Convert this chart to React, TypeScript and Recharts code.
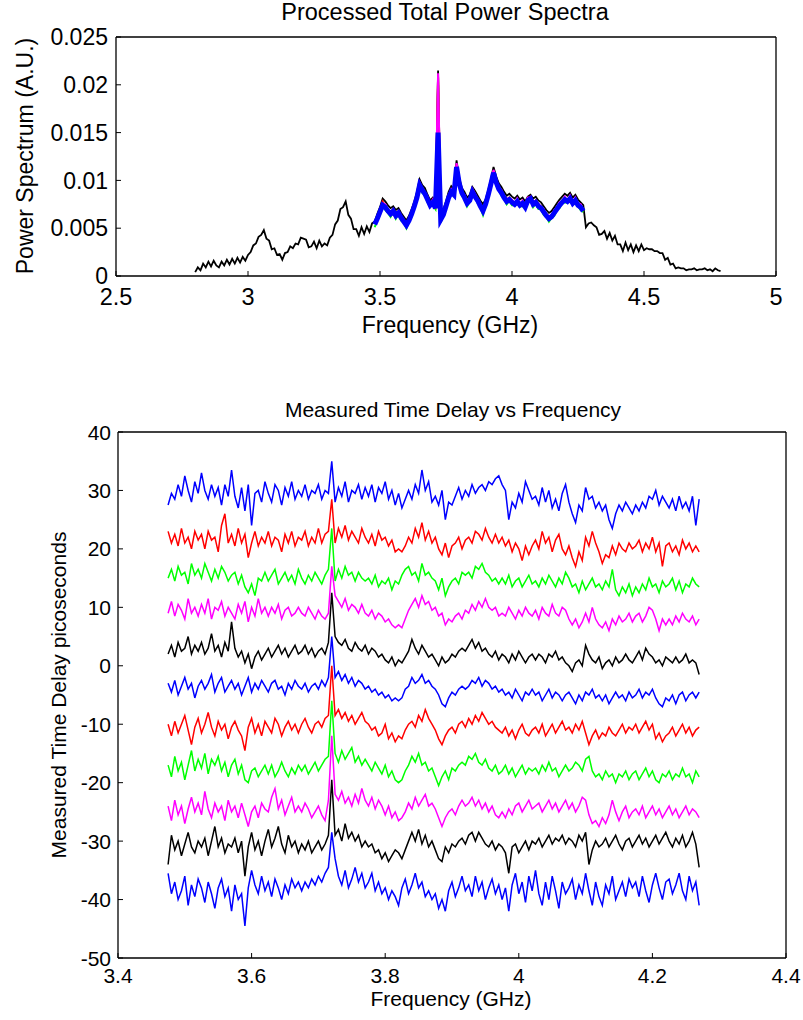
import { LineChart, Line, XAxis, YAxis } from 'recharts';

const FONT = '"Liberation Sans", Arial, Helvetica, sans-serif';

// ---- Processed Total Power Spectra (top) ----
// full-band trace, 2.80 .. 4.79 GHz, 10 MHz spacing
const powerStart = 2.8;
const powerStep = 0.01;
const powerBlack = [
  0.0004, 0.0009, 0.0006, 0.0013, 0.0009, 0.0015, 0.0010, 0.0016, 0.0011, 0.0009,
  0.0015, 0.0011, 0.0017, 0.0012, 0.0018, 0.0013, 0.0019, 0.0014, 0.0020, 0.0016,
  0.0022, 0.0025, 0.0032, 0.0034, 0.0041, 0.0043, 0.0048, 0.0039, 0.0037, 0.0028,
  0.0029, 0.0022, 0.0023, 0.0017, 0.0024, 0.0025, 0.0031, 0.0029, 0.0034, 0.0033,
  0.0040, 0.0039, 0.0038, 0.0030, 0.0031, 0.0036, 0.0029, 0.0037, 0.0031, 0.0034,
  0.0032, 0.0040, 0.0043, 0.0054, 0.0058, 0.0070, 0.0072, 0.0078, 0.0064, 0.0060,
  0.0049, 0.0049, 0.0042, 0.0051, 0.0044, 0.0052, 0.0046, 0.0055, 0.0057, 0.0065,
  0.0072, 0.0081, 0.0078, 0.0074, 0.0071, 0.0073, 0.0069, 0.0071, 0.0066, 0.0062,
  0.0058, 0.0063, 0.0070, 0.0078, 0.0088, 0.0101, 0.0095, 0.0092, 0.0085, 0.0079,
  0.0082, 0.0076, 0.0215, 0.0064, 0.0070, 0.0078, 0.0088, 0.0094, 0.0091, 0.0121,
  0.0103, 0.0092, 0.0088, 0.0082, 0.0085, 0.0093, 0.0089, 0.0084, 0.0079, 0.0075,
  0.0080, 0.0090, 0.0101, 0.0114, 0.0104, 0.0097, 0.0093, 0.0088, 0.0084, 0.0086,
  0.0083, 0.0081, 0.0084, 0.0080, 0.0082, 0.0078, 0.0083, 0.0085, 0.0081, 0.0083,
  0.0079, 0.0077, 0.0073, 0.0069, 0.0066, 0.0068, 0.0072, 0.0076, 0.0080, 0.0083,
  0.0086, 0.0084, 0.0087, 0.0082, 0.0085, 0.0080, 0.0077, 0.0074, 0.0051, 0.0055,
  0.0056, 0.0053, 0.0051, 0.0043, 0.0044, 0.0047, 0.0039, 0.0045, 0.0037, 0.0042,
  0.0033, 0.0033, 0.0026, 0.0035, 0.0027, 0.0033, 0.0025, 0.0032, 0.0026, 0.0033,
  0.0027, 0.0029, 0.0028, 0.0028, 0.0026, 0.0026, 0.0024, 0.0024, 0.0017, 0.0019,
  0.0012, 0.0013, 0.0008, 0.0009, 0.0008, 0.0008, 0.0006, 0.0007, 0.0007, 0.0008,
  0.0006, 0.0007, 0.0007, 0.0008, 0.0006, 0.0007, 0.0005, 0.0008, 0.0006, 0.0005,
];

// processed band, 3.48 .. 4.27 GHz
const bandStart = 3.48;
const bandStep = 0.01;
const powerGreen = [
  0.0051, 0.0059, 0.0064, 0.0075, 0.0069, 0.0066, 0.0062, 0.0067, 0.0060, 0.0065,
  0.0058, 0.0056, 0.0050, 0.0057, 0.0062, 0.0072, 0.0079, 0.0094, 0.0087, 0.0085,
  0.0077, 0.0073, 0.0074, 0.0070, 0.0200, 0.0056, 0.0063, 0.0070, 0.0081, 0.0085,
  0.0084, 0.0111, 0.0096, 0.0084, 0.0081, 0.0073, 0.0078, 0.0085, 0.0082, 0.0076,
  0.0072, 0.0064, 0.0074, 0.0082, 0.0095, 0.0107, 0.0095, 0.0090, 0.0084, 0.0081,
  0.0075, 0.0079, 0.0074, 0.0074, 0.0075, 0.0073, 0.0073, 0.0071, 0.0076, 0.0080,
  0.0072, 0.0076, 0.0070, 0.0070, 0.0064, 0.0062, 0.0057, 0.0061, 0.0063, 0.0069,
  0.0071, 0.0076, 0.0077, 0.0077, 0.0078, 0.0075, 0.0076, 0.0073, 0.0069, 0.0067,
];
const powerRed = [
  0.0055, 0.0062, 0.0069, 0.0078, 0.0073, 0.0069, 0.0066, 0.0070, 0.0064, 0.0067,
  0.0062, 0.0059, 0.0054, 0.0060, 0.0066, 0.0076, 0.0084, 0.0097, 0.0091, 0.0088,
  0.0081, 0.0076, 0.0078, 0.0073, 0.0208, 0.0061, 0.0065, 0.0076, 0.0083, 0.0090,
  0.0087, 0.0117, 0.0098, 0.0089, 0.0083, 0.0078, 0.0080, 0.0090, 0.0084, 0.0081,
  0.0074, 0.0070, 0.0076, 0.0087, 0.0098, 0.0110, 0.0099, 0.0093, 0.0088, 0.0084,
  0.0079, 0.0082, 0.0078, 0.0077, 0.0079, 0.0076, 0.0077, 0.0074, 0.0080, 0.0083,
  0.0076, 0.0079, 0.0074, 0.0073, 0.0068, 0.0065, 0.0061, 0.0064, 0.0067, 0.0072,
  0.0075, 0.0079, 0.0081, 0.0080, 0.0082, 0.0078, 0.0080, 0.0076, 0.0073, 0.0070,
];
const powerMagenta = [
  0.0056, 0.0061, 0.0070, 0.0076, 0.0075, 0.0070, 0.0067, 0.0069, 0.0065, 0.0068,
  0.0063, 0.0058, 0.0056, 0.0059, 0.0068, 0.0075, 0.0085, 0.0098, 0.0092, 0.0087,
  0.0083, 0.0075, 0.0080, 0.0072, 0.0212, 0.0060, 0.0067, 0.0075, 0.0085, 0.0091,
  0.0088, 0.0118, 0.0100, 0.0088, 0.0085, 0.0079, 0.0081, 0.0091, 0.0086, 0.0080,
  0.0076, 0.0069, 0.0078, 0.0086, 0.0099, 0.0111, 0.0101, 0.0092, 0.0090, 0.0083,
  0.0081, 0.0081, 0.0080, 0.0076, 0.0081, 0.0075, 0.0079, 0.0073, 0.0082, 0.0082,
  0.0078, 0.0078, 0.0076, 0.0072, 0.0070, 0.0064, 0.0063, 0.0063, 0.0069, 0.0071,
  0.0077, 0.0078, 0.0083, 0.0079, 0.0084, 0.0077, 0.0082, 0.0075, 0.0075, 0.0069,
];
const powerBlue = [
  0.0054, 0.0060, 0.0067, 0.0074, 0.0072, 0.0068, 0.0065, 0.0068, 0.0063, 0.0066,
  0.0061, 0.0057, 0.0053, 0.0058, 0.0065, 0.0073, 0.0082, 0.0095, 0.0090, 0.0086,
  0.0080, 0.0074, 0.0077, 0.0071, 0.0150, 0.0059, 0.0064, 0.0073, 0.0082, 0.0088,
  0.0085, 0.0114, 0.0097, 0.0087, 0.0082, 0.0076, 0.0079, 0.0088, 0.0083, 0.0079,
  0.0073, 0.0068, 0.0075, 0.0085, 0.0096, 0.0108, 0.0098, 0.0091, 0.0087, 0.0082,
  0.0078, 0.0080, 0.0077, 0.0075, 0.0078, 0.0074, 0.0076, 0.0072, 0.0079, 0.0081,
  0.0075, 0.0077, 0.0073, 0.0071, 0.0067, 0.0063, 0.0060, 0.0062, 0.0066, 0.0070,
  0.0074, 0.0077, 0.0080, 0.0078, 0.0081, 0.0076, 0.0079, 0.0074, 0.0072, 0.0068,
];
const powerTicksX = [2.5, 3, 3.5, 4, 4.5, 5];
const powerTicksY = [0, 0.005, 0.01, 0.015, 0.02, 0.025];

// ---- Measured Time Delay vs Frequency (bottom) ----
// 3.475 .. 4.27 GHz, 5 MHz spacing, picoseconds
const delayStart = 3.475;
const delayStep = 0.005;
const delayBlue1 = [
  27.5, 29.5, 28.5, 31, 29, 32.5, 30, 28, 31.5, 29.5,
  33, 30, 28.5, 31, 29, 30.5, 27.5, 31, 29, 33.5,
  29, 27, 30.5, 26.5, 31, 24, 29.5, 30, 28, 31.5,
  29.5, 28, 31, 30, 27.5, 30.5, 29, 31.5, 28.5, 30,
  29, 31, 28.5, 30, 29.5, 31, 28.5, 30, 29.5, 35,
  28, 30.5, 29, 31.5, 28, 30, 29.5, 31, 28.5, 30.5,
  29, 31, 28, 30.5, 29.5, 31.5, 28.5, 30, 27.5, 29.5,
  27, 28.5, 30, 28.5, 31, 29.5, 33.5, 30, 31.5, 28,
  29, 27.5, 30, 25, 28, 27.5, 29, 30.5, 28.5, 30,
  29, 31, 29.5, 30.5, 31, 30, 31.5, 31, 32, 32.5,
  31, 30, 25, 28, 27, 29.5, 28, 31.5, 30, 28.5,
  29, 27.5, 30.5, 28, 30, 27, 28.5, 26.5, 29.5, 31,
  28, 26, 24.5, 27.5, 26.5, 30.5, 28.5, 29, 27, 28,
  26.5, 27.5, 25, 23.5, 26, 27.5, 26.5, 28, 27, 26,
  27.5, 26.5, 28, 27, 29, 28.5, 30, 27.5, 29, 28,
  27, 28.5, 26.5, 29, 27, 28, 26.5, 29, 24, 28.5,
];
const delayRed1 = [
  23, 21, 22.5, 20.5, 23.5, 21, 22, 20, 23, 21.5,
  22.5, 20, 23, 21.5, 22, 19.5, 24, 26, 21, 22.5,
  20.5, 23.5, 21, 22.5, 18.5, 21, 23, 20.5, 22, 21,
  23, 20.5, 22, 21.5, 19.5, 22.5, 21, 23, 20.5, 22,
  21.5, 23, 20.5, 22, 21, 23.5, 21, 22.5, 23, 28.5,
  21, 23.5, 22, 24, 21.5, 23, 22, 21, 23.5, 22,
  21, 22.5, 20.5, 23, 21.5, 22, 20.5, 21.5, 19.5, 20,
  19.5, 20.5, 22, 21, 23.5, 22, 24.5, 21.5, 23, 21,
  22, 20, 19, 21, 18.5, 20.5, 21, 22, 20, 21.5,
  22, 21, 23, 22.5, 21.5, 23.5, 22, 21, 22.5, 21,
  22, 20.5, 21.5, 19.5, 21, 20, 18, 20.5, 19, 20.5,
  21.5, 20, 23, 21, 22, 19.5, 21.5, 22.5, 20, 19,
  20.5, 18.5, 17, 19.5, 18, 22, 20.5, 23, 21, 19.5,
  17.5, 19, 18.5, 20.5, 19, 21, 20, 19.5, 21, 20,
  20.5, 21.5, 19.5, 21, 20, 22, 19.5, 21, 17, 20.5,
  21, 19.5, 20.5, 19, 21.5, 20, 21, 19.5, 20.5, 19.5,
];
const delayGreen1 = [
  15, 16.5, 14.5, 17, 15.5, 16, 14, 17.5, 15.5, 16.5,
  15, 17.5, 16, 14.5, 16.5, 15, 17, 16, 14.5, 15.5,
  16, 14, 15.5, 13.5, 12.5, 14, 12, 15, 14.5, 16,
  14.5, 15.5, 16.5, 14, 15, 16, 14.5, 15.5, 14, 16.5,
  15, 14, 15.5, 14.5, 16, 15, 14, 15.5, 16.5, 23.5,
  14.5, 16.5, 15, 17, 15.5, 16, 14.5, 16, 15, 14.5,
  15, 14, 15.5, 13.5, 14.5, 14, 15, 13, 14.5, 14,
  15.5, 16.5, 17, 15.5, 16, 14.5, 17.5, 15.5, 16, 15,
  14.5, 13, 15, 12, 13.5, 14.5, 15, 14, 16, 15.5,
  16, 15, 17, 16.5, 17.5, 16, 15.5, 14.5, 15, 14,
  15, 14, 15.5, 13.5, 14.5, 15, 13.5, 14.5, 15.5, 14,
  14.5, 13.5, 15, 14, 15.5, 14.5, 13.5, 15, 14, 16,
  15, 13.5, 14, 12.5, 14.5, 13, 14, 15, 13.5, 14,
  13, 14.5, 13.5, 16.5, 13, 12, 13.5, 12.5, 14, 12,
  13.5, 12.5, 14, 13, 15, 13.5, 14, 12.5, 14.5, 13.5,
  14, 15, 13, 14.5, 12.5, 14, 13.5, 15, 14, 13.5,
];
const delayMagenta1 = [
  9, 11, 8.5, 10.5, 9.5, 8, 11.5, 9, 10, 8.5,
  10.5, 9, 11.5, 8, 10, 9.5, 11, 8.5, 10, 9,
  8, 10.5, 9, 11, 7.5, 10, 8.5, 11.5, 9, 10,
  8.5, 10, 9, 10.5, 8, 9.5, 10, 8.5, 9, 10,
  9, 8.5, 10, 9, 8, 9.5, 8.5, 8, 9, 17,
  12, 11, 10, 11.5, 9.5, 10.5, 10, 9, 10.5, 9,
  8.5, 9.5, 8, 9, 8.5, 7.5, 8, 7, 6.5, 7,
  6.5, 8, 9.5, 10.5, 11.5, 10, 12, 10.5, 11, 9.5,
  10, 8.5, 9, 7, 8, 7.5, 8.5, 9, 8, 9.5,
  9, 10.5, 9.5, 11, 10, 11.5, 10, 9.5, 10, 8.5,
  9, 8.5, 10, 9, 8, 9.5, 8.5, 10, 9, 8.5,
  9.5, 8, 10, 9, 8.5, 10.5, 9, 8.5, 10, 9.5,
  8, 7, 8, 6.5, 7.5, 9, 7.5, 10, 8, 7,
  6.5, 7.5, 6, 8, 7, 8.5, 7.5, 8, 9, 7.5,
  8.5, 9, 7.5, 8.5, 10, 9.5, 8, 6, 8, 7,
  8, 7, 8.5, 7.5, 9, 8, 7.5, 8.5, 7, 8,
];
const delayBlack1 = [
  2, 3.5, 1.5, 4, 2.5, 3, 5, 2, 3.5, 2.5,
  4, 2, 3, 5.5, 2.5, 3.5, 1.5, 4, 2.5, 7.5,
  3, 1.5, 2.5, 0.5, 2, -0.5, 1.5, 2.5, 1, 2,
  3, 1.5, 2.5, 3.5, 2, 3, 1.5, 2.5, 3.5, 2,
  2.5, 3.5, 2, 3, 1.5, 2.5, 3, 2, 4, 12.5,
  5, 4, 3.5, 4.5, 3, 2.5, 4, 3, 2.5, 3.5,
  2, 3, 2.5, 1.5, 2, 1, 0.5, 1.5, 0, 1,
  0.5, 1.5, 2.5, 4.5, 3, 2, 3.5, 2.5, 1.5, 2,
  1, 0, 1.5, 0.5, 1, 2, 1.5, 2.5, 3, 2.5,
  3.5, 4.5, 3, 4, 2.5, 3, 2, 1.5, 2.5, 1,
  2, 1.5, 0.5, 2, 1, 2.5, 1.5, 0.5, 1.5, 2,
  1, 2, 1.5, 0.5, 2, 1.5, 2.5, 1, 1.5, 0.5,
  0, -1, 0.5, 1, 0, 3.5, 2, 1, 0.5, 1.5,
  -0.5, 0.5, 1, 0, 1.5, 0.5, 1, 2, 1, 0.5,
  1.5, 2.5, 1, 3, 2, 1.5, 0.5, 1, 0, 1.5,
  1, 0.5, 1.5, 0.5, 1, 2, 0.5, 1, 0.5, -1.5,
];
const delayBlue2 = [
  -3, -4.5, -2.5, -5, -3.5, -2, -4, -3, -5.5, -3.5,
  -2.5, -4, -3, -1.5, -4.5, -3, -2, -4.5, -3.5, -2.5,
  -4, -3, -5, -3.5, -2, -4.5, -3, -4, -2.5, -3.5,
  -4.5, -3, -2.5, -4, -3.5, -5, -3, -4, -2.5, -3.5,
  -4, -3, -4.5, -3.5, -3, -4, -2.5, -3.5, -2, 5,
  -2, -1, -2.5, -1.5, -3, -2, -3.5, -2.5, -3, -4,
  -3.5, -4.5, -4, -5, -4.5, -5.5, -5, -6, -5.5, -6,
  -5.5, -4, -3.5, -2, -3, -2.5, -1.5, -3, -2.5, -3.5,
  -4, -5, -6.5, -7, -5.5, -4.5, -5, -4, -3.5, -4,
  -3.5, -2.5, -3, -2, -3.5, -2.5, -3, -4, -3.5, -4.5,
  -4, -5, -4.5, -5.5, -4, -5, -6, -4.5, -5, -4,
  -5, -4.5, -6, -5, -4, -5.5, -4.5, -5, -6, -5,
  -4.5, -5.5, -6.5, -5, -6, -4.5, -5, -4, -5.5, -5,
  -6, -5, -6.5, -5.5, -4.5, -5.5, -5, -6, -4.5, -5.5,
  -5, -4, -5.5, -4.5, -5, -4, -5.5, -6.5, -7, -5.5,
  -6, -5, -6.5, -5, -4.5, -6, -5, -4.5, -5.5, -4.5,
];
const delayRed2 = [
  -10, -12, -9.5, -11.5, -10, -8.5, -11, -13.5, -10.5, -9,
  -11.5, -10, -8, -10.5, -12, -9.5, -11, -10, -12.5, -10.5,
  -9.5, -11, -12, -14.5, -10.5, -9, -11.5, -10, -12, -9.5,
  -10.5, -11.5, -9, -10, -12, -10.5, -9.5, -11, -10, -11.5,
  -10, -9, -10.5, -11.5, -10, -9.5, -10.5, -9, -8.5, 0,
  -8.5, -7.5, -9, -8, -9.5, -8.5, -10, -9, -8, -9.5,
  -10, -11, -10.5, -12, -11.5, -10, -12.5, -11.5, -13, -12,
  -12.5, -11, -10, -9.5, -10.5, -8.5, -9.5, -7.5, -9, -10,
  -11, -12.5, -13.5, -12, -11, -10.5, -11.5, -10, -9.5, -10.5,
  -9, -10, -8.5, -9.5, -8, -9, -10, -9.5, -10.5, -11,
  -11.5, -10.5, -12, -11, -12.5, -11, -10, -11.5, -12, -11,
  -10.5, -11.5, -10, -12, -11, -10, -11.5, -10.5, -9.5, -11,
  -10.5, -11.5, -10, -11, -9.5, -11.5, -13.5, -12, -11, -12.5,
  -11.5, -12, -10.5, -11.5, -12, -11, -10, -11.5, -10.5, -11,
  -10, -11.5, -10.5, -9.5, -11, -10, -12.5, -11.5, -13, -12,
  -11.5, -10.5, -12, -11, -10, -11.5, -10.5, -12, -11, -10.5,
];
const delayGreen2 = [
  -17, -19, -15.5, -18, -16.5, -19.5, -17, -14.5, -18, -16,
  -17.5, -15, -18.5, -16, -17, -15.5, -18, -16.5, -19, -17,
  -16, -18.5, -17, -19.5, -20, -18, -17.5, -19, -18, -17,
  -18.5, -17, -19, -18, -16.5, -18, -19, -17.5, -18.5, -17,
  -18, -17, -18.5, -17.5, -16.5, -18, -17, -16, -15.5, -6,
  -15, -16.5, -14.5, -16, -15, -14, -16.5, -15.5, -17, -16,
  -17, -18, -16.5, -17.5, -18.5, -17, -19, -18, -19.5, -20,
  -19.5, -18, -17, -15.5, -16.5, -15, -17, -16.5, -18, -17.5,
  -19, -20.5, -19, -18, -19.5, -17.5, -18, -17, -16.5, -17,
  -15.5, -16, -15, -16.5, -17, -16, -17.5, -18, -17, -18.5,
  -18, -17, -18.5, -17.5, -19, -18, -17, -18.5, -17.5, -18,
  -17.5, -18.5, -17, -18, -16.5, -18, -17.5, -19, -18, -17,
  -18, -17.5, -16.5, -17, -18, -16, -15.5, -18, -19, -18.5,
  -19.5, -18, -19, -18.5, -20, -18.5, -19, -18, -19.5, -18.5,
  -18, -19.5, -18.5, -17.5, -19, -18, -19.5, -20, -18.5, -19,
  -18, -19.5, -18.5, -19, -17.5, -19, -18.5, -20, -18, -19,
];
const delayMagenta2 = [
  -24, -26.5, -23, -25.5, -24, -27, -24.5, -22.5, -25, -23.5,
  -25.5, -21.5, -24.5, -26, -23.5, -25, -24, -26.5, -23, -25,
  -24, -26, -23.5, -25.5, -27.5, -25, -24, -26, -23.5, -24.5,
  -25, -22.5, -21, -24.5, -23, -25.5, -24, -22.5, -25, -24,
  -25, -23.5, -24.5, -26, -25, -24, -25.5, -26.5, -23, -12,
  -22, -23, -21.5, -23.5, -22.5, -24, -22, -23.5, -21, -23,
  -24, -22.5, -24.5, -23, -24, -25.5, -24, -26, -25, -26.5,
  -26, -25, -23.5, -24.5, -22.5, -24, -23, -22, -24, -23.5,
  -24.5, -26, -27.5, -26, -25, -24.5, -25.5, -24, -23, -24,
  -23.5, -22.5, -24, -23, -24.5, -23.5, -25, -24, -25.5, -26,
  -25, -26, -24.5, -25.5, -24, -23.5, -25, -24, -23, -24.5,
  -24, -23.5, -25, -24, -23, -24.5, -23.5, -25, -24, -23,
  -24.5, -23.5, -25, -24, -22.5, -23, -25.5, -27, -26.5, -27.5,
  -26, -27, -25.5, -23, -25, -26.5, -25, -24, -26, -25,
  -24.5, -25.5, -24, -26, -25, -24, -25.5, -24.5, -26, -25,
  -24, -25.5, -24.5, -26, -25, -24, -25.5, -24.5, -25, -26,
];
const delayBlack2 = [
  -34, -29, -31.5, -30, -32.5, -30.5, -28.5, -31, -32, -30,
  -31, -29.5, -32.5, -30, -27.5, -31, -29.5, -32, -30.5, -31,
  -29.5, -32, -30, -36, -31, -28.5, -31.5, -30, -32.5, -30,
  -28, -31, -29.5, -27.5, -30.5, -32, -29, -31, -30, -32,
  -30.5, -31.5, -30, -32, -31, -30, -31.5, -30.5, -29, -19.5,
  -29, -28, -30, -27, -29.5, -28.5, -30, -29, -31, -30,
  -31, -30.5, -32, -31.5, -33, -32, -33.5, -32.5, -31.5, -32,
  -33, -31.5, -30, -28.5, -30, -28, -30.5, -29, -31, -30,
  -31.5, -33, -33.5, -31, -32, -30.5, -31, -30, -29.5, -30.5,
  -29, -28.5, -30, -28.5, -29.5, -30.5, -31, -30, -31.5, -30.5,
  -31, -32, -35.5, -31, -30.5, -32, -31, -30, -31.5, -30,
  -30.5, -29.5, -31, -30, -29, -30.5, -29.5, -30, -29, -30.5,
  -29.5, -30, -31, -29, -30, -28.5, -34, -31.5, -30, -31,
  -30.5, -29.5, -31, -30, -29, -30.5, -31.5, -30, -29.5, -31,
  -30, -29, -30.5, -29.5, -31, -30, -29, -30.5, -29.5, -28.5,
  -30, -31, -29.5, -30.5, -29, -31, -30, -28.5, -30.5, -34.5,
];
const delayBlue3 = [
  -35.5, -39, -37, -40, -38.5, -36, -41, -37.5, -39.5, -36.5,
  -38, -40.5, -37, -39, -41.5, -38, -36.5, -39.5, -38, -42,
  -37.5, -40, -39, -44.5, -38, -35, -37.5, -39, -36, -38.5,
  -37, -39.5, -36.5, -38, -40, -37.5, -39, -36.5, -38, -37,
  -38.5, -37, -38, -36.5, -37.5, -36, -37, -35.5, -34.5, -28.5,
  -33, -36, -37.5, -35, -38, -36.5, -34.5, -37, -35.5, -38,
  -37, -35.5, -38.5, -37, -39, -38, -40, -38.5, -39.5, -41,
  -38, -36.5, -39, -37.5, -35.5, -38, -37, -39.5, -38.5, -40,
  -39, -41.5, -40, -42, -38.5, -37, -39.5, -38, -36, -38.5,
  -37.5, -39.5, -36, -38.5, -37, -40, -38, -36.5, -39, -37.5,
  -40, -38, -42, -37.5, -35.5, -39, -37, -40.5, -36, -38.5,
  -35, -39, -41, -37, -40, -36, -38.5, -41.5, -37, -39,
  -38, -36.5, -40, -37.5, -39, -35.5, -38.5, -41, -37, -39.5,
  -41, -37.5, -39, -36, -40, -38.5, -37, -39.5, -36.5, -38,
  -37, -39.5, -36, -38.5, -40.5, -37.5, -35.5, -38, -40, -37,
  -36.5, -39, -37.5, -35.5, -38.5, -40, -36, -38.5, -37, -41,
];
const delayTicksX = [3.4, 3.6, 3.8, 4, 4.2, 4.4];
const delayTicksY = [-50, -40, -30, -20, -10, 0, 10, 20, 30, 40];

const BLUE = '#0000ff';
const RED = '#ff0000';
const GREEN = '#00ff00';
const MAGENTA = '#ff00ff';
const BLACK = '#000000';

function toRows(values: number[], start: number, step: number) {
  return values.map((v, i) => ({ f: Math.round((start + i * step) * 10000) / 10000, v }));
}

// drawn in this order: black full trace, colour fringes, blue band on top
const powerSeries = [
  { key: 'pk', color: BLACK, rows: toRows(powerBlack, powerStart, powerStep), width: 1.8 },
  { key: 'pg', color: GREEN, rows: toRows(powerGreen, bandStart, bandStep), width: 2 },
  { key: 'pr', color: RED, rows: toRows(powerRed, bandStart, bandStep), width: 2 },
  { key: 'pm', color: MAGENTA, rows: toRows(powerMagenta, bandStart, bandStep), width: 2 },
  { key: 'pb', color: BLUE, rows: toRows(powerBlue, bandStart, bandStep), width: 5 },
];

const delaySeries = [
  { key: 'b1', color: BLUE, values: delayBlue1 },
  { key: 'r1', color: RED, values: delayRed1 },
  { key: 'g1', color: GREEN, values: delayGreen1 },
  { key: 'm1', color: MAGENTA, values: delayMagenta1 },
  { key: 'k1', color: BLACK, values: delayBlack1 },
  { key: 'b2', color: BLUE, values: delayBlue2 },
  { key: 'r2', color: RED, values: delayRed2 },
  { key: 'g2', color: GREEN, values: delayGreen2 },
  { key: 'm2', color: MAGENTA, values: delayMagenta2 },
  { key: 'k2', color: BLACK, values: delayBlack2 },
  { key: 'b3', color: BLUE, values: delayBlue3 },
].map(s => ({ ...s, rows: toRows(s.values, delayStart, delayStep) }));

// text helper: positions by baseline (page coords)
const Caption = ({ text, cx, baseline, size }: { text: string; cx: number; baseline: number; size: number }) => (
  <div
    style={{
      position: 'absolute',
      left: cx - 300,
      width: 600,
      top: baseline - size * 0.85,
      fontSize: size,
      lineHeight: `${size}px`,
      textAlign: 'center',
      fontFamily: FONT,
      color: '#000',
      whiteSpace: 'nowrap',
    }}
  >
    {text}
  </div>
);

const VCaption = ({ text, cx, cy, size }: { text: string; cx: number; cy: number; size: number }) => (
  <div
    style={{
      position: 'absolute',
      left: cx,
      top: cy,
      transform: 'translate(-50%, -50%) rotate(-90deg)',
      fontSize: size,
      lineHeight: `${size}px`,
      fontFamily: FONT,
      color: '#000',
      whiteSpace: 'nowrap',
    }}
  >
    {text}
  </div>
);

const makeXTick = (baseline: number, size: number) => (props: any) => (
  <text x={props.x} y={baseline} textAnchor="middle" fontSize={size} fontFamily={FONT} fill="#000">
    {props.payload.value}
  </text>
);

const makeYTick = (right: number, size: number) => (props: any) => (
  <text x={right} y={props.y} dy="0.36em" textAnchor="end" fontSize={size} fontFamily={FONT} fill="#000">
    {props.payload.value}
  </text>
);

const axisLine = { stroke: '#000', strokeWidth: 1.3 };
const tickLine = { stroke: '#000', strokeWidth: 1 };

// MATLAB-style box: inward ticks on all four sides
const frameAxes = (xDomain: number[], xTicks: number[], yDomain: number[], yTicks: number[]) => [
  <XAxis
    key="top"
    xAxisId="top"
    orientation="top"
    type="number"
    domain={xDomain}
    ticks={xTicks}
    allowDataOverflow
    height={1}
    axisLine={axisLine}
    tickLine={tickLine}
    tickSize={-5}
    interval={0}
    tick={false}
  />,
  <YAxis
    key="right"
    yAxisId="right"
    orientation="right"
    type="number"
    domain={yDomain}
    ticks={yTicks}
    allowDataOverflow
    width={1}
    axisLine={axisLine}
    tickLine={tickLine}
    tickSize={-5}
    interval={0}
    tick={false}
  />,
];

const PowerChart = () => (
  <LineChart width={803} height={345} margin={{ top: 36, right: 26, bottom: 39, left: 56 }}>
    <XAxis
      type="number"
      dataKey="f"
      domain={[2.5, 5]}
      ticks={powerTicksX}
      allowDataOverflow
      axisLine={axisLine}
      tickLine={tickLine}
      tickSize={-5}
      interval={0}
      tick={makeXTick(305, 23.5)}
    />
    <YAxis
      type="number"
      domain={[0, 0.025]}
      ticks={powerTicksY}
      allowDataOverflow
      axisLine={axisLine}
      tickLine={tickLine}
      tickSize={-5}
      interval={0}
      tick={makeYTick(108, 23)}
    />
    {frameAxes([2.5, 5], powerTicksX, [0, 0.025], powerTicksY)}
    {powerSeries.map(s => (
      <Line
        key={s.key}
        data={s.rows}
        dataKey="v"
        type="linear"
        stroke={s.color}
        strokeWidth={s.width}
        dot={false}
        activeDot={false}
        isAnimationActive={false}
      />
    ))}
  </LineChart>
);

const DelayChart = () => (
  <LineChart width={803} height={640} margin={{ top: 51, right: 16, bottom: 32, left: 58 }}>
    <XAxis
      type="number"
      dataKey="f"
      domain={[3.4, 4.4]}
      ticks={delayTicksX}
      allowDataOverflow
      axisLine={axisLine}
      tickLine={tickLine}
      tickSize={-5}
      interval={0}
      tick={makeXTick(603, 21)}
    />
    <YAxis
      type="number"
      domain={[-50, 40]}
      ticks={delayTicksY}
      allowDataOverflow
      axisLine={axisLine}
      tickLine={tickLine}
      tickSize={-5}
      interval={0}
      tick={makeYTick(111, 21)}
    />
    {frameAxes([3.4, 4.4], delayTicksX, [-50, 40], delayTicksY)}
    {delaySeries.map(s => (
      <Line
        key={s.key}
        data={s.rows}
        dataKey="v"
        type="linear"
        stroke={s.color}
        strokeWidth={1.5}
        dot={false}
        activeDot={false}
        isAnimationActive={false}
      />
    ))}
  </LineChart>
);

export default function App() {
  return (
    <div style={{ position: 'absolute', left: 0, top: 0, width: 803, height: 1020, background: '#fff', overflow: 'hidden' }}>
      <div style={{ position: 'absolute', left: 0, top: 0 }}>
        <PowerChart />
      </div>
      <div style={{ position: 'absolute', left: 0, top: 380 }}>
        <DelayChart />
      </div>
      <Caption text="Processed Total Power Spectra" cx={445} baseline={21} size={23.5} />
      <Caption text="Frequency (GHz)" cx={450} baseline={334} size={23} />
      <VCaption text="Power Spectrum (A.U.)" cx={25} cy={156} size={23} />
      <Caption text="Measured Time Delay vs Frequency" cx={453} baseline={417} size={21} />
      <Caption text="Frequency (GHz)" cx={451} baseline={1006} size={21} />
      <VCaption text="Measured Time Delay picoseconds" cx={58} cy={695} size={21} />
    </div>
  );
}
